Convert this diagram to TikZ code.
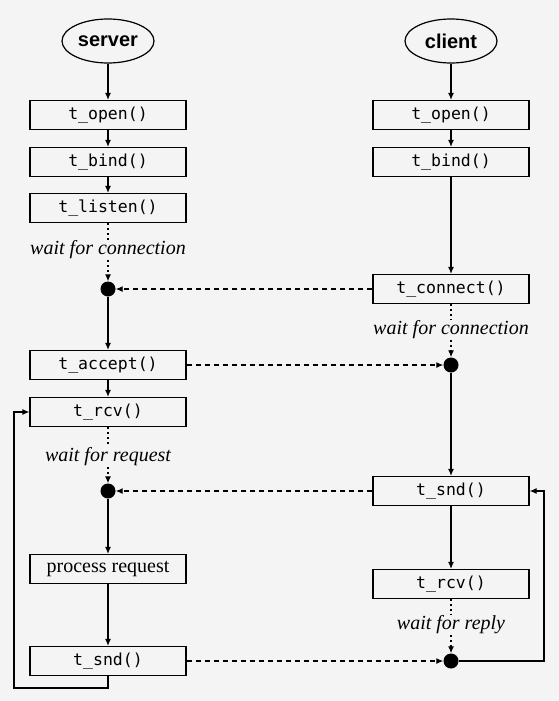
\documentclass[tikz,border=0pt]{standalone}
\usepackage{fontspec}
\setmainfont{Liberation Serif}
\setsansfont{Liberation Sans}
\setmonofont{DejaVu Sans Mono}
\usetikzlibrary{shapes.geometric,arrows.meta}
\definecolor{pPaper}{HTML}{F4F4F4}

\begin{document}
\begin{tikzpicture}[x=1pt,y=-1pt]
    \pgfmathsetmacro{\xs}{108}	%server column
    \pgfmathsetmacro{\xc}{451}	%client column
    \tikzset{
        endpoint/.style={draw, ellipse, line width=1.2pt, minimum width=92pt, minimum height=44pt, inner sep=0pt, font=\fontsize{20}{20}\selectfont\sffamily\bfseries},
        callbox/.style={draw, line width=1.2pt, minimum width=156pt, minimum height=29pt, inner sep=0pt, font=\fontsize{16.5}{16.5}\selectfont\ttfamily},
        waitnote/.style={inner sep=1pt, font=\fontsize{20}{20}\selectfont\itshape},
        syncdot/.style={circle, fill, minimum size=15pt, inner sep=0pt},
        flow/.style={line width=1.2pt, -{Latex[length=7pt,width=6pt]}},
        msg/.style={line width=1.2pt, dash pattern=on 5pt off 4pt, -{Latex[length=7pt,width=6pt]}},
        waitline/.style={line width=1.2pt, dash pattern=on 2pt off 3pt}
    }
    \path[use as bounding box, fill=pPaper] (0,0) rectangle (559,701);

    % server side
    \node[endpoint] (srv) at (\xs,41) {server};
    \node[callbox] (sOpen) at (\xs,115) {t\_open()};
    \node[callbox] (sBind) at (\xs,162) {t\_bind()};
    \node[callbox] (sListen) at (\xs,208) {t\_listen()};
    \node[waitnote] (sWaitConn) at (\xs,250) {wait for connection};
    \node[syncdot] (sSyncA) at (\xs,289) {};
    \node[callbox] (sAccept) at (\xs,365) {t\_accept()};
    \node[callbox] (sRcv) at (\xs,412) {t\_rcv()};
    \node[waitnote] (sWaitReq) at (\xs,457) {wait for request};
    \node[syncdot] (sSyncB) at (\xs,491) {};
    \node[callbox, font=\fontsize{20}{20}\selectfont\rmfamily] (sProc) at (\xs,569) {process request};
    \node[callbox] (sSnd) at (\xs,661) {t\_snd()};
    \coordinate (sLoopA) at (\xs,688);
    \coordinate (sLoopB) at (14,688);
    \coordinate (sLoopC) at (14,412);

    % client side
    \node[endpoint] (cli) at (\xc,41) {client};
    \node[callbox] (cOpen) at (\xc,115) {t\_open()};
    \node[callbox] (cBind) at (\xc,162) {t\_bind()};
    \node[callbox] (cConnect) at (\xc,289) {t\_connect()};
    \node[waitnote] (cWaitConn) at (\xc,330) {wait for connection};
    \node[syncdot] (cSyncA) at (\xc,365) {};
    \node[callbox] (cSnd) at (\xc,491) {t\_snd()};
    \node[callbox] (cRcv) at (\xc,584) {t\_rcv()};
    \node[waitnote] (cWaitRep) at (\xc,625) {wait for reply};
    \node[syncdot] (cSyncB) at (\xc,661) {};
    \coordinate (cLoopA) at (544,661);
    \coordinate (cLoopB) at (544,491);

    \draw[flow] (srv) -- (sOpen);
    \draw[flow] (sOpen) -- (sBind);
    \draw[flow] (sBind) -- (sListen);
    \draw[waitline] (sListen) -- (sWaitConn);
    \draw[waitline, -{Latex[length=7pt,width=6pt]}] (sWaitConn) -- (sSyncA);
    \draw[flow] (sSyncA) -- (sAccept);
    \draw[flow] (sAccept) -- (sRcv);
    \draw[waitline] (sRcv) -- (sWaitReq);
    \draw[waitline, -{Latex[length=7pt,width=6pt]}] (sWaitReq) -- (sSyncB);
    \draw[flow] (sSyncB) -- (sProc);
    \draw[flow] (sProc) -- (sSnd);
    \draw[flow] (sSnd) -- (sLoopA) -- (sLoopB) -- (sLoopC) -- (sRcv);

    \draw[flow] (cli) -- (cOpen);
    \draw[flow] (cOpen) -- (cBind);
    \draw[flow] (cBind) -- (cConnect);
    \draw[waitline] (cConnect) -- (cWaitConn);
    \draw[waitline, -{Latex[length=7pt,width=6pt]}] (cWaitConn) -- (cSyncA);
    \draw[flow] (cSyncA) -- (cSnd);
    \draw[flow] (cSnd) -- (cRcv);
    \draw[waitline] (cRcv) -- (cWaitRep);
    \draw[waitline, -{Latex[length=7pt,width=6pt]}] (cWaitRep) -- (cSyncB);
    \draw[flow] (cSyncB) -- (cLoopA) -- (cLoopB) -- (cSnd);

    % messages between the two
    \draw[msg] (cConnect) -- (sSyncA);
    \draw[msg] (sAccept) -- (cSyncA);
    \draw[msg] (cSnd) -- (sSyncB);
    \draw[msg] (sSnd) -- (cSyncB);
\end{tikzpicture}
\end{document}
